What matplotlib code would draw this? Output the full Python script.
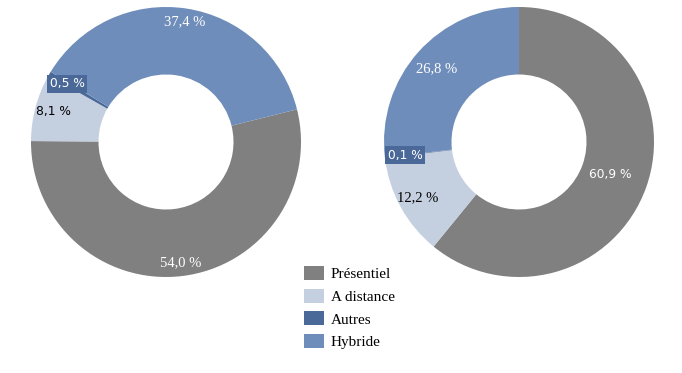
import matplotlib.pyplot as plt
import numpy as np

categories = ['Présentiel', 'A distance', 'Autres', 'Hybride']
left_values = [54.0, 8.1, 0.5, 37.4]
right_values = [60.9, 12.2, 0.1, 26.8]
left_labels = ['54,0 %', '8,1 %', '0,5 %', '37,4 %']
right_labels = ['60,9 %', '12,2 %', '0,1 %', '26,8 %']

colors = ['#808080', '#c4cfe0', '#4a6999', '#6e8dba']
text_colors = ['white', 'black', 'white', 'white']

fig = plt.figure(figsize=(6.82, 3.73), dpi=100)

W, H = 682, 373
R = 135
SERIF = ('Liberation Serif', 10.5)
SANS = ('DejaVu Sans', 8.8)


def donut(cx, cy, values, labels, startangle, label_r, fonts):
    ax = fig.add_axes([(cx - R) / W, (H - cy - R) / H, 2 * R / W, 2 * R / H])
    wedges, _ = ax.pie(values, colors=colors, startangle=startangle,
                       counterclock=False, radius=1,
                       wedgeprops=dict(width=0.5, linewidth=0))
    ax.set_xlim(-1, 1)
    ax.set_ylim(-1, 1)
    ax.set_aspect('equal')
    ax.axis('off')
    for i, w in enumerate(wedges):
        ang = np.deg2rad((w.theta1 + w.theta2) / 2)
        x = label_r[i] * np.cos(ang)
        y = label_r[i] * np.sin(ang)
        kw = {}
        if categories[i] == 'Autres':
            kw['bbox'] = dict(boxstyle='square,pad=0.2', facecolor=colors[2],
                              edgecolor='none')
        ax.text(x, y, labels[i], ha='center', va='center', fontsize=fonts[i][1],
                color=text_colors[i], family=fonts[i][0], **kw)
    return wedges


wedges = donut(166, 142, left_values, left_labels, 14,
               [0.9, 0.86, 0.85, 0.9],
               [SERIF, SANS, SANS, SERIF])
donut(519, 142, right_values, right_labels, 90,
      [0.72, 0.855, 0.85, 0.82],
      [SANS, SERIF, SANS, SERIF])

fig.legend(wedges, categories, loc='upper left',
           bbox_to_anchor=(304 / W, 1 - 266 / H), frameon=False,
           borderaxespad=0, borderpad=0, handlelength=1.3, handleheight=1.05,
           handletextpad=0.45, labelspacing=0.48,
           prop=dict(family='Liberation Serif', size=11))

fig.savefig('out.png', dpi=100)
